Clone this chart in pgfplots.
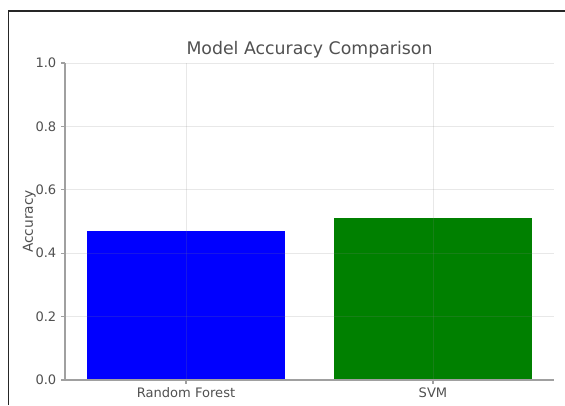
\documentclass[border=0pt]{standalone}
\usepackage{pgfplots}
\pgfplotsset{compat=1.18}
\usepackage{fontspec}
\setmainfont{DejaVu Sans}
\definecolor{txt}{HTML}{505050}
\definecolor{spine}{HTML}{A0A0A0}
\begin{document}
\begin{tikzpicture}
\useasboundingbox (0,0) rectangle (423.75pt,303.75pt);
\draw[line width=1.3pt, black!85] (6.4pt,0) -- (6.4pt,295.5pt) -- (423.75pt,295.5pt);
\begin{axis}[
  at={(48.75pt,18.75pt)}, anchor=south west,
  scale only axis, width=366.75pt, height=237.75pt,
  xmin=-0.49, xmax=1.49, ymin=0, ymax=1,
  xtick={0,1}, xticklabels={Random Forest, SVM},
  ytick={0,0.2,0.4,0.6,0.8,1.0},
  yticklabel style={/pgf/number format/fixed,/pgf/number format/fixed zerofill,/pgf/number format/precision=1},
  /pgf/number format/assume math mode=true,
  axis x line*=bottom, axis y line*=left,
  axis line style={spine, line width=1.1pt, -},
  tick style={spine, line width=0.8pt},
  major tick length=3pt,
  xtick align=inside, ytick align=outside,
  tick label style={font=\fontsize{9.8}{11}\selectfont, text=txt},
  xticklabel style={yshift=1pt},
  ylabel={Accuracy}, ylabel style={font=\fontsize{10.3}{12}\selectfont, text=txt, yshift=-7pt},
  title={Model Accuracy Comparison},
  title style={font=\fontsize{13}{15}\selectfont, text=txt, yshift=-6pt},
  grid=major, grid style={gray, opacity=0.18, line width=0.6pt},
  axis on top,
  ybar, bar width=148.5pt, bar shift=0pt,
]
\addplot[fill={rgb,255:red,0;green,0;blue,255}, draw=none] coordinates {(0,0.47)};
\addplot[fill={rgb,255:red,0;green,128;blue,0}, draw=none] coordinates {(1,0.511)};
\end{axis}
\end{tikzpicture}
\end{document}
